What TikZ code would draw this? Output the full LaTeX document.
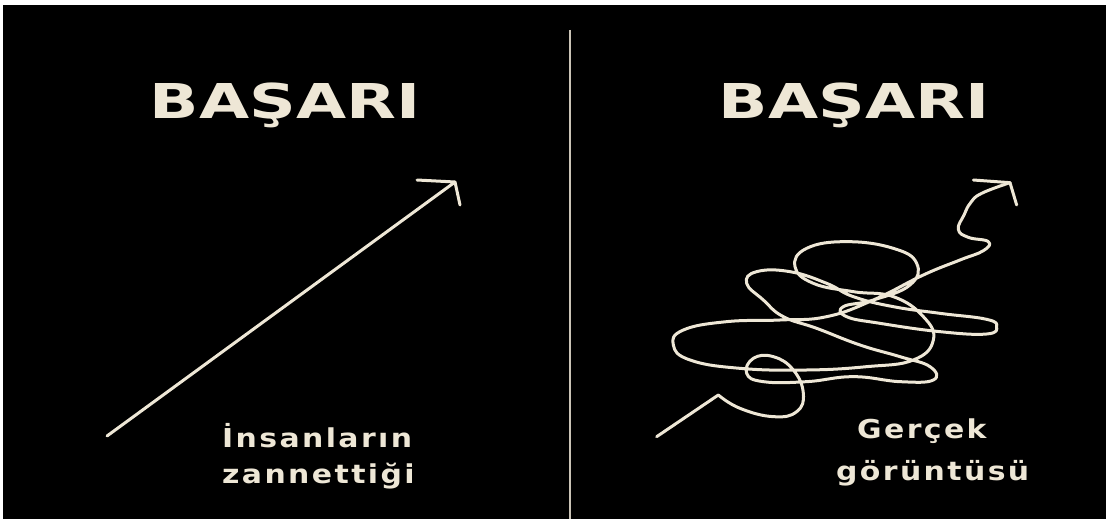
\documentclass[tikz,border=0pt]{standalone}
\usepackage{fontspec}
\newfontfamily\titlefont{DejaVu Sans}
\newfontfamily\subfont{DejaVu Sans}[LetterSpace=8]
\definecolor{chalk}{HTML}{EEE7D6}
\tikzset{
  chalkline/.style={draw=chalk, line width=3pt, line cap=round, line join=round},
  divider/.style={draw=chalk!85!black, line width=2pt},
  titletext/.style={text=chalk, inner sep=0pt, anchor=base, font=\titlefont\bfseries\fontsize{48}{52}\selectfont},
  subtext/.style={text=chalk, inner sep=0pt, anchor=base west, font=\subfont\bfseries\fontsize{26}{30}\selectfont},
}
\begin{document}
\begin{tikzpicture}[x=1pt,y=-1pt]
\useasboundingbox (0,0) rectangle (1106,519);
\fill[white] (0,0) rectangle (1106,519);
\fill[black] (3,5) rectangle (1106,519);
% divider
\coordinate (dtop) at (570,30);
\coordinate (dbot) at (570,519);
\draw[divider] (dtop) -- (dbot);
% titles
\node[titletext] (t1) at (285,118) {\scalebox{1.35}[1]{BAŞARI}};
\node[titletext] (t2) at (854,118) {\scalebox{1.35}[1]{BAŞARI}};
% captions
\node[subtext] (l1) at (222,447) {\scalebox{1.15}[1]{İnsanların}};
\node[subtext] (l2) at (222,483) {\scalebox{1.15}[1]{zannettiği}};
\node[subtext] (r1) at (857,438) {\scalebox{1.15}[1]{Gerçek}};
\node[subtext] (r2) at (836,480) {\scalebox{1.15}[1]{görüntüsü}};
% left arrow
\coordinate (a0) at (107,436);
\coordinate (a1) at (455,182);
\coordinate (ah1) at (417,180);
\coordinate (ah2) at (460,205);
\draw[chalkline] (a0) -- (a1);
\draw[chalkline] (ah1) -- (a1) -- (ah2);
% right scribble (drawn in 3x zoom coordinates)
\begin{scope}[shift={(640,160)}, scale=1/3]
\draw[chalkline] (50,830) -- (235,705);
\draw[chalkline] plot[smooth, tension=0.75] coordinates {
 (235,705) (300,745) (400,770) (470,755) (490,700) (460,630) (400,590) (340,595)
 (320,640) (370,665) (500,665) (640,650) (780,665) (880,660) (870,620) (780,590)
 (660,555) (530,505) (430,470) (370,420) (320,370) (350,335) (450,335) (560,370)
 (640,410) (760,440) (900,460) (1040,478) (1070,500) (1040,522) (900,515) (720,490)
 (620,470) (610,440) (700,420) (810,375) (830,310) (760,265) (620,245) (500,265)
 (465,320) (520,370) (640,395) (760,410) (850,470) (880,540) (820,600) (680,620)
 (500,630) (300,625) (150,600) (100,555) (130,510) (260,485) (420,480) (560,470)
 (700,420) (850,345) (960,300) (1030,272) (1045,245) (985,232) (955,208) (972,165)
 (992,128) (1025,100) (1110,68)};
\draw[chalkline] (1000,60) -- (1110,68) -- (1130,135);
\end{scope}
\end{tikzpicture}
\end{document}
